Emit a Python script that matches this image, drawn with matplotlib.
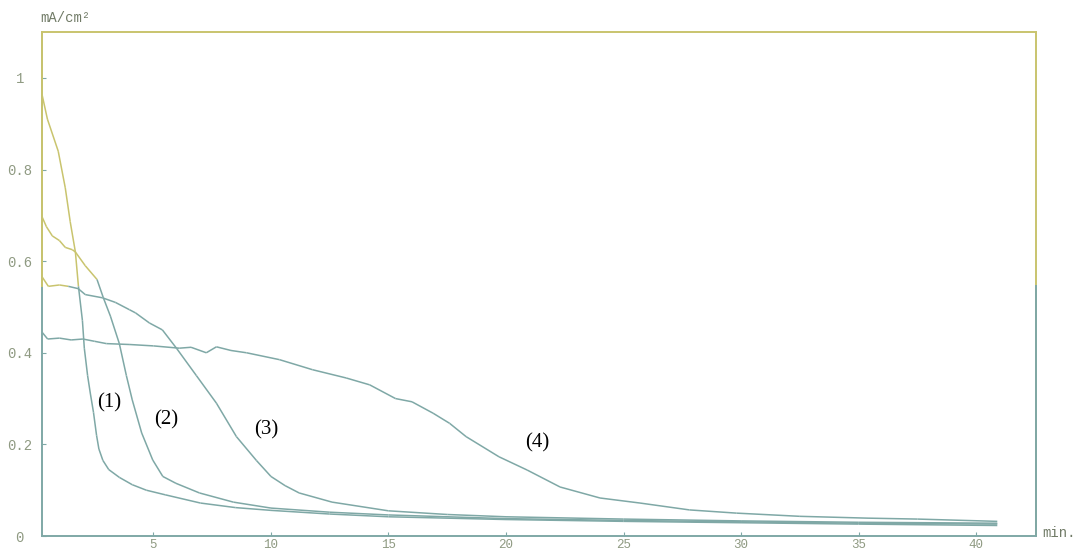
import numpy as np
import matplotlib
matplotlib.use("Agg")
import matplotlib.pyplot as plt
from matplotlib.collections import LineCollection

YEL = "#c9c46e"
TEAL = "#7fa8a6"
TXT = "#8f9a82"
SPLIT = 0.545  # recorder switches trace colour at this level

# curve (1)
t1 = [0.26, 0.49, 0.95, 1.25, 1.46, 1.68, 1.81, 1.98, 2.06, 2.2, 2.32, 2.45, 2.58, 2.68, 2.85, 3.1,
      3.55, 4.1, 4.7, 5.5, 7.0, 8.5, 10, 12.5, 15, 20, 25, 30, 35, 40.9]
i1 = [0.964, 0.91, 0.84, 0.76, 0.686, 0.62, 0.545, 0.47, 0.41, 0.35, 0.31, 0.27, 0.22, 0.19, 0.165, 0.145,
      0.128, 0.112, 0.10, 0.09, 0.072, 0.062, 0.056, 0.048, 0.042, 0.036, 0.032, 0.029, 0.026, 0.023]
# curve (2)
t2 = [0.26, 0.45, 0.7, 1.0, 1.25, 1.55, 1.68, 2.1, 2.6, 2.87, 3.17, 3.55, 3.85, 4.1, 4.5, 4.97,
      5.4, 5.96, 6.96, 8.4, 10, 12.5, 15, 20, 25, 30, 35, 40.9]
i2 = [0.697, 0.675, 0.655, 0.645, 0.63, 0.625, 0.62, 0.59, 0.56, 0.52, 0.48, 0.42, 0.35, 0.297, 0.225, 0.166,
      0.13, 0.115, 0.094, 0.074, 0.061, 0.052, 0.046, 0.038, 0.034, 0.031, 0.028, 0.026]
# curve (3)
t3 = [0.26, 0.53, 1.0, 1.38, 1.8, 2.1, 2.83, 3.38, 3.98, 4.24, 4.83, 5.38, 5.98, 6.83, 7.68, 8.53,
      9.38, 10.0, 10.6, 11.2, 12.6, 15, 17.5, 20, 25, 30, 35, 40.9]
i3 = [0.566, 0.545, 0.548, 0.545, 0.54, 0.527, 0.52, 0.51, 0.494, 0.487, 0.465, 0.45, 0.41, 0.35, 0.29, 0.217,
      0.165, 0.13, 0.11, 0.094, 0.074, 0.055, 0.047, 0.042, 0.037, 0.033, 0.030, 0.028]
# curve (4)
t4 = [0.26, 0.5, 1.0, 1.5, 2.0, 2.5, 3.0, 4.0, 5.0, 6.1, 6.6, 7.25, 7.68, 8.3, 8.96, 10.36, 11.77,
      13.2, 14.2, 15.3, 16.0, 16.9, 17.6, 18.3, 19.7, 20.9, 22.3, 24.0, 25.7, 27.8, 29.8, 32.5,
      35.4, 37.5, 40.9]
i4 = [0.445, 0.43, 0.432, 0.428, 0.43, 0.425, 0.42, 0.418, 0.415, 0.41, 0.412, 0.40, 0.413, 0.405, 0.40,
      0.385, 0.363, 0.345, 0.33, 0.30, 0.293, 0.268, 0.246, 0.217, 0.173, 0.144, 0.107, 0.083, 0.072,
      0.057, 0.050, 0.043, 0.039, 0.037, 0.032]

curves = [(t1, i1), (t2, i2), (t3, i3), (t4, i4)]
labels = ["(1)", "(2)", "(3)", "(4)"]
label_xy = [(3.12, 0.29), (5.55, 0.254), (9.8, 0.232), (21.35, 0.203)]

fig = plt.figure(figsize=(10.77, 5.53), dpi=100)
ax = fig.add_axes([0.039, 0.0307, 0.923, 0.9113])
ax.set_xlim(0.26, 42.55)
ax.set_ylim(0, 1.1)

for t, i in curves:
    pts = np.column_stack([t, i])
    segs = np.stack([pts[:-1], pts[1:]], axis=1)
    mid = (pts[:-1, 1] + pts[1:, 1]) / 2
    cols = [YEL if m > SPLIT else TEAL for m in mid]
    ax.add_collection(LineCollection(segs, colors=cols, linewidths=1.1))

for lab, (x, y) in zip(labels, label_xy):
    ax.text(x, y, lab, fontsize=15, family="Liberation Serif", ha="center", va="center", color="black")

# frame: yellow on the upper part, teal on the lower part
for s in ("top", "right"):
    ax.spines[s].set_color(YEL)
for s in ("left", "bottom"):
    ax.spines[s].set_color(TEAL)
for s in ax.spines.values():
    s.set_linewidth(1.4)
fr = SPLIT / 1.1
ax.axvline(0.26, ymin=fr, ymax=1, color=YEL, lw=1.4, clip_on=False, zorder=5)
ax.axvline(42.55, ymin=0, ymax=fr, color=TEAL, lw=1.4, clip_on=False, zorder=5)

ax.set_xticks([5, 10, 15, 20, 25, 30, 35, 40])
ax.set_yticks([0, 0.2, 0.4, 0.6, 0.8, 1.0])
ax.set_yticklabels(["0", "0.2", "0.4", "0.6", "0.8", "1"])
ax.tick_params(axis="both", direction="in", length=3, color=TEAL, labelcolor=TXT, labelsize=10)
ax.tick_params(axis="y", pad=16)
ax.tick_params(axis="x", pad=2, labelsize=9)
for lab in ax.get_yticklabels():
    lab.set_horizontalalignment("center")
    lab.set_family("Liberation Mono")
for lab in ax.get_xticklabels():
    lab.set_family("Liberation Mono")

fig.text(40 / 1077, 1 - 18 / 553, "mA/cm²", family="Liberation Mono", fontsize=10, color="#707a66",
         ha="left", va="center")
fig.text(1042 / 1077, 1 - 533 / 553, "min.", family="Liberation Mono", fontsize=10, color="#707a66",
         ha="left", va="center")

fig.savefig("out.png", dpi=100)
